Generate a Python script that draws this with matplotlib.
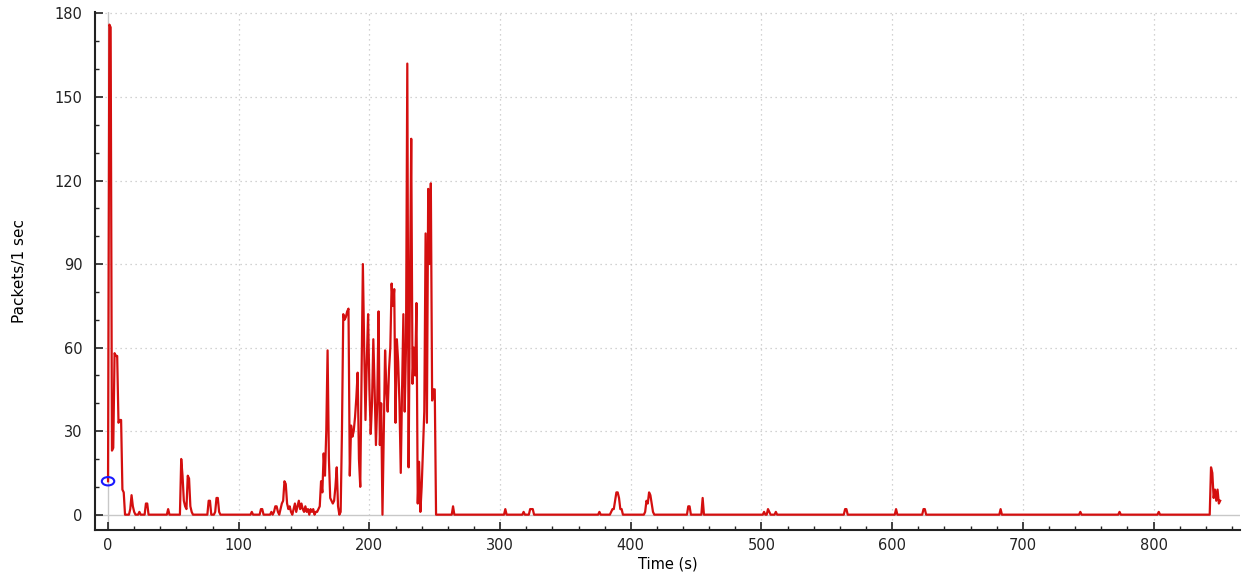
import numpy as np
import matplotlib
matplotlib.use("Agg")
import matplotlib.pyplot as plt
from matplotlib.patches import Ellipse
from matplotlib.ticker import MultipleLocator

# packets per second, t = 0 .. 264 s
busy_counts = [
    12, 176, 175, 23, 24, 58, 57, 57, 33, 34,
    34, 9, 8, 0, 0, 0, 0, 2, 7, 3,
    1, 0, 0, 0, 1, 0, 0, 0, 0, 4,
    4, 0, 0, 0, 0, 0, 0, 0, 0, 0,
    0, 0, 0, 0, 0, 0, 2, 0, 0, 0,
    0, 0, 0, 0, 0, 0, 20, 14, 5, 3,
    2, 14, 13, 3, 1, 0, 0, 0, 0, 0,
    0, 0, 0, 0, 0, 0, 0, 5, 5, 0,
    0, 0, 1, 6, 6, 1, 0, 0, 0, 0,
    0, 0, 0, 0, 0, 0, 0, 0, 0, 0,
    0, 0, 0, 0, 0, 0, 0, 0, 0, 0,
    1, 0, 0, 0, 0, 0, 0, 2, 2, 0,
    0, 0, 0, 0, 0, 1, 0, 1, 3, 3,
    1, 0, 2, 4, 5, 12, 11, 4, 2, 3,
    1, 0, 2, 4, 1, 3, 5, 2, 4, 2,
    1, 3, 1, 2, 0, 2, 1, 2, 0, 1,
    1, 2, 3, 12, 8, 22, 14, 30, 59, 20,
    6, 5, 4, 5, 10, 17, 3, 0, 1, 30,
    72, 70, 71, 73, 74, 14, 32, 28, 30, 35,
    42, 51, 20, 10, 50, 90, 60, 34, 55, 72,
    45, 29, 40, 63, 45, 25, 40, 73, 25, 40,
    0, 30, 59, 45, 37, 52, 60, 83, 75, 81,
    33, 63, 55, 40, 15, 45, 72, 37, 60, 162,
    17, 80, 135, 47, 60, 50, 76, 4, 19, 1,
    10, 24, 37, 101, 33, 117, 90, 119, 41, 45,
    45, 0, 0, 0, 0, 0, 0, 0, 0, 0,
    0, 0, 0, 0, 3,
]

# later, sparse seconds with traffic (all other seconds are 0)
late_times = [304, 318, 323, 324, 325, 376, 385, 386, 387, 388, 389, 390, 391, 392, 393,
              411, 412, 413, 414, 415, 416, 417, 444, 445, 455, 502, 505, 506, 511,
              564, 565, 603, 624, 625, 683, 744, 774, 804,
              844, 845, 846, 847, 848, 849, 850, 851]
late_counts = [2, 1, 2, 2, 2, 1, 1, 2, 2, 5, 8, 8, 6, 2, 2,
               1, 5, 4, 8, 7, 4, 1, 3, 3, 6, 1, 2, 1, 1,
               2, 2, 2, 2, 2, 2, 1, 1, 1,
               17, 15, 6, 9, 5, 9, 4, 5]

last_second = 851

t = np.arange(last_second + 1)
packets = np.zeros(last_second + 1)
packets[:len(busy_counts)] = busy_counts
packets[late_times] = late_counts

fig = plt.figure(figsize=(12.43, 5.75), dpi=100)
ax = fig.add_axes([0.0764, 0.0783, 0.921, 0.9007])

ax.set_xlim(-10, 866)
ax.set_ylim(-5.5, 180.5)

# grid like the wireshark io graph
for x in range(100, 900, 100):
    ax.axvline(x, color='#c4c4c4', lw=0.9, ls=(0, (1, 3)), zorder=0)
for y in range(30, 210, 30):
    ax.axhline(y, color='#c4c4c4', lw=0.9, ls=(0, (1, 3)), zorder=0)
ax.axvline(0, color='#c8c8c8', lw=1.0, zorder=0)
ax.axhline(0, color='#c8c8c8', lw=1.0, zorder=0)

ax.plot(t, packets, color='#d40f0f', lw=1.6, zorder=3)

ax.add_patch(Ellipse((t[0], packets[0]), width=9.5, height=3.0,
                     fill=False, edgecolor='#1a1aff', lw=1.5, zorder=4))

ax.xaxis.set_major_locator(MultipleLocator(100))
ax.xaxis.set_minor_locator(MultipleLocator(20))
ax.yaxis.set_major_locator(MultipleLocator(30))
ax.yaxis.set_minor_locator(MultipleLocator(10))
ax.tick_params(which='major', direction='in', length=6, width=1.2, labelsize=10.5, colors='#222222')
ax.tick_params(which='minor', direction='in', length=3, width=1.0, colors='#222222')
ax.tick_params(axis='y', pad=9)
ax.tick_params(axis='x', pad=6)

for s in ['top', 'right']:
    ax.spines[s].set_visible(False)
for s in ['left', 'bottom']:
    ax.spines[s].set_linewidth(1.5)
    ax.spines[s].set_color('#222222')

ax.set_xlabel("Time (s)", fontsize=10.5, labelpad=2)
ax.set_ylabel("Packets/1 sec", fontsize=11, labelpad=20,
              family=['Liberation Sans Narrow', 'DejaVu Sans'])

fig.savefig("out.png", dpi=100)
